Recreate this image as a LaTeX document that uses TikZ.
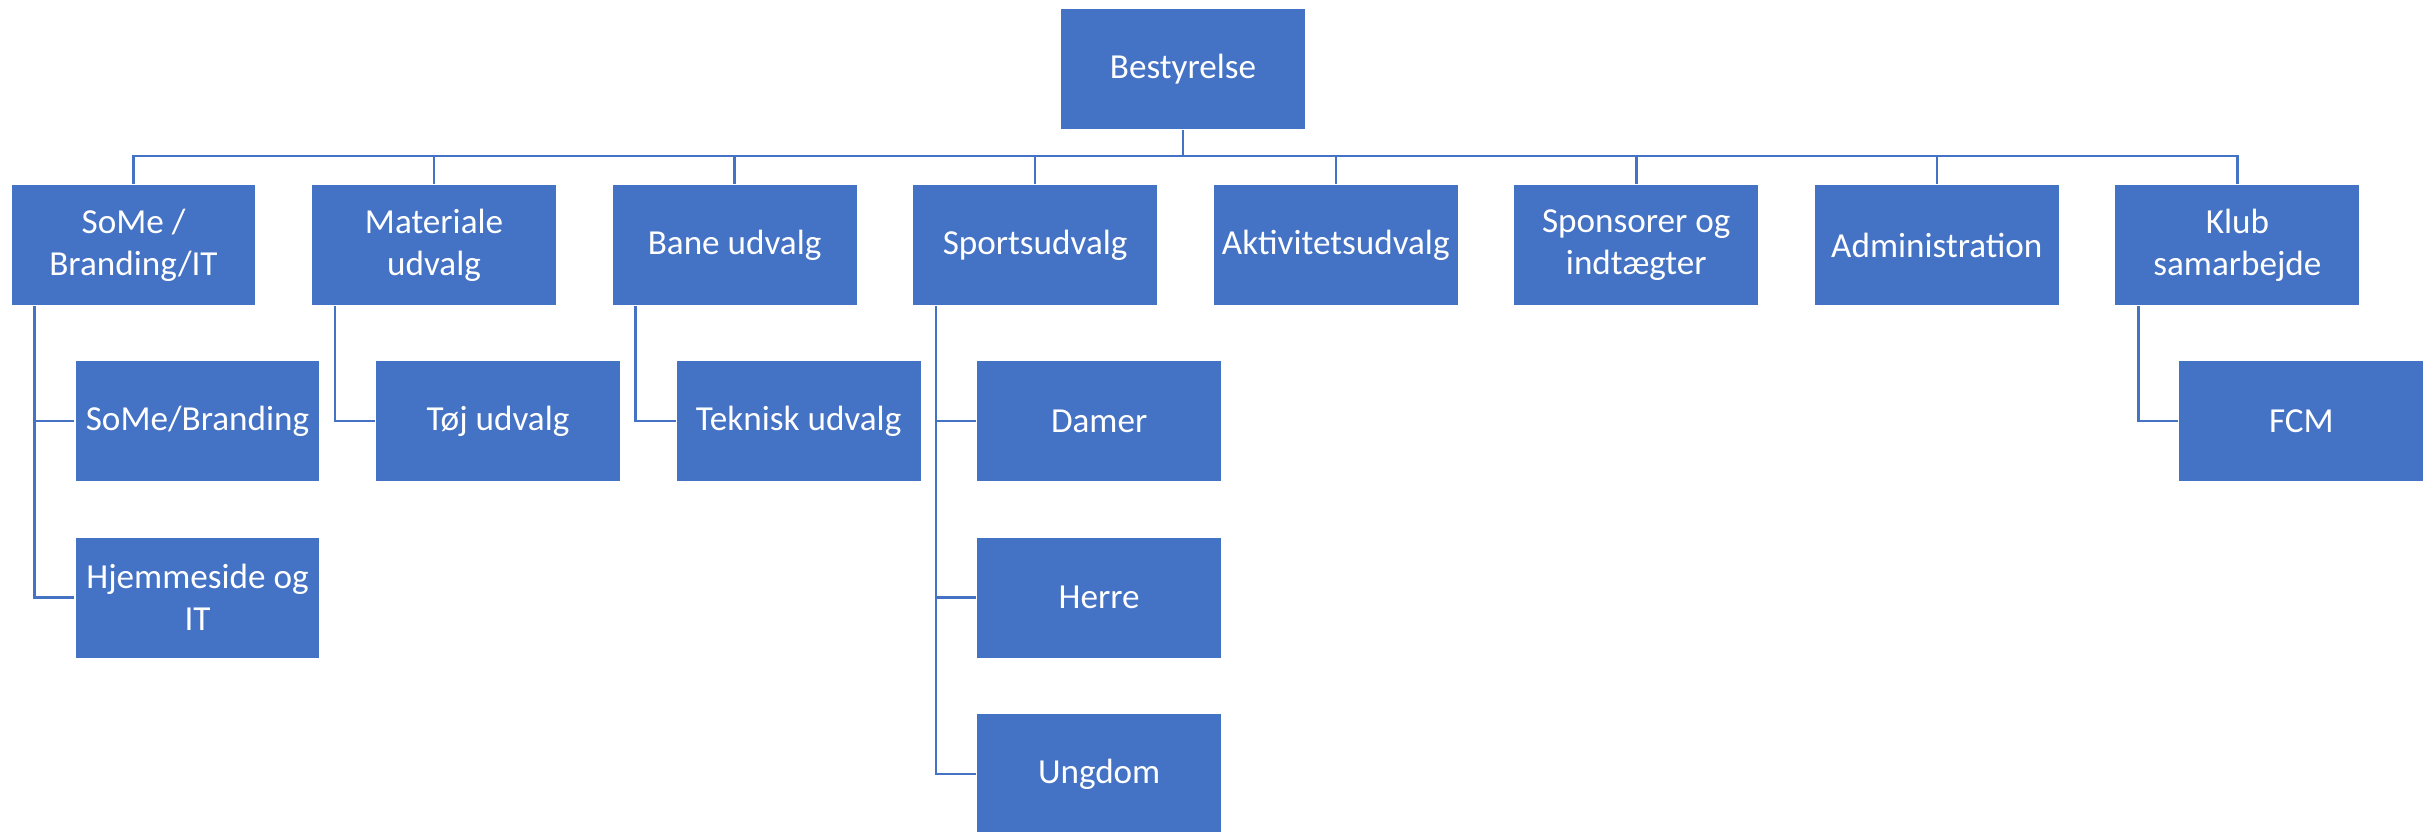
\documentclass[tikz,border=0pt]{standalone}
\usepackage{fontspec}
\setmainfont{Carlito}
\usepackage{tikz}
\usetikzlibrary{positioning}
\definecolor{orgblue}{HTML}{4472C4}
\tikzset{
        unit/.style={draw=white, line width=0.3pt, fill=orgblue, text=white, % the blue boxes
                minimum width=2.45cm, minimum height=1.21cm, inner sep=0pt,
                align=center, font=\fontsize{10}{12}\selectfont},
        link/.style={draw=orgblue, line width=0.7pt}, % the connecting lines
        node distance=0.545cm, % gap between two boxes
}

\begin{document}
\begin{tikzpicture}
      \useasboundingbox (0,0) rectangle (24.25,-8.32);
      % top
      \node[unit] (best) at (11.83,-0.69) {Bestyrelse};
      % committees
      \node[unit] (some) at (1.335,-2.45) {SoMe /\\Branding/IT};
      \node[unit, right=of some] (mat) {Materiale\\udvalg};
      \node[unit, right=of mat] (bane) {Bane udvalg};
      \node[unit, right=of bane] (sport) {Sportsudvalg};
      \node[unit, right=of sport] (akt) {Aktivitetsudvalg};
      \node[unit, right=of akt] (spons) {Sponsorer og\\indtægter};
      \node[unit, right=of spons] (adm) {Administration};
      \node[unit, right=of adm] (klub) {Klub\\samarbejde};
      % sub groups
      \node[unit, below right=0.54cm and 0.64cm of some.south west] (brand) {SoMe/Branding};
      \node[unit, below=of brand] (web) {Hjemmeside og\\IT};
      \node[unit, below right=0.54cm and 0.64cm of mat.south west] (toj) {Tøj udvalg};
      \node[unit, below right=0.54cm and 0.64cm of bane.south west] (tek) {Teknisk udvalg};
      \node[unit, below right=0.54cm and 0.64cm of sport.south west] (damer) {Damer};
      \node[unit, below=of damer] (herre) {Herre};
      \node[unit, below=of herre] (ungdom) {Ungdom};
      \node[unit, below right=0.54cm and 0.64cm of klub.south west] (fcm) {FCM};

      \foreach \n in {some,mat,bane,sport,akt,spons,adm,klub}
         \draw[link] (best.south) -- ++(0,-0.26) -| (\n.north);
      \foreach \p/\c in {some/brand,some/web,mat/toj,bane/tek,sport/damer,sport/herre,sport/ungdom,klub/fcm}
         \draw[link] ([xshift=0.24cm]\p.south west) |- (\c.west);
    \end{tikzpicture}
\end{document}
